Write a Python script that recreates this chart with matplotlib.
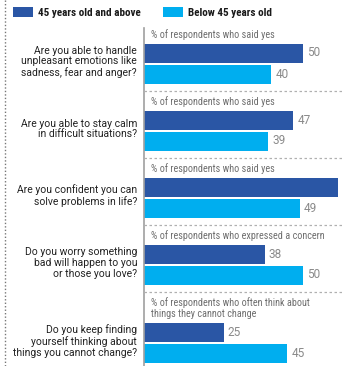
import matplotlib
matplotlib.use("Agg")
import matplotlib.pyplot as plt
from matplotlib.patches import Rectangle

# ── Data ──────────────────────────────────────────────────────────────
questions = [
    "Are you able to handle\nunpleasant emotions like\nsadness, fear and anger?",
    "Are you able to stay calm\nin difficult situations?",
    "Are you confident you can\nsolve problems in life?",
    "Do you worry something\nbad will happen to you\nor those you love?",
    "Do you keep finding\nyourself thinking about\nthings you cannot change?",
]
subtitles = [
    "% of respondents who said yes",
    "% of respondents who said yes",
    "% of respondents who said yes",
    "% of respondents who expressed a concern",
    "% of respondents who often think about\nthings they cannot change",
]
older = [50, 47, 61, 38, 25]      # 45 years old and above
younger = [40, 39, 49, 50, 45]    # Below 45 years old
series_names = ["45 years old and above", "Below 45 years old"]

DARK = "#2a56a5"
LIGHT = "#00aeef"
GREY_TXT = "#8a8a8a"

W, H = 342, 366
fig = plt.figure(figsize=(W / 100, H / 100), dpi=100)

# background axes in pixel coordinates (layout only)
bg = fig.add_axes([0, 0, 1, 1])
bg.set_xlim(0, W)
bg.set_ylim(H, 0)
bg.axis("off")

AX_X = 144
ax = fig.add_axes([AX_X / W, 0, (W - AX_X) / W, 1])
ax.set_xlim(0, (W - AX_X) / 3.18)
ax.set_ylim(H, 0)
ax.axis("off")

narrow = ["Roboto Condensed", "Asap Condensed", "Archivo Narrow", "DejaVu Sans"]
regular = ["Roboto", "Liberation Sans", "DejaVu Sans"]

# left dotted border
bg.plot([5, 5], [0, H], color="#777777", lw=1.0, ls=(0, (1, 1.5)))

# legend
for x0, col, name in [(13, DARK, series_names[0]), (163, LIGHT, series_names[1])]:
    bg.add_patch(Rectangle((x0, 7), 20, 10, color=col, lw=0))
    bg.text(x0 + 25, 12.5, name, ha="left", va="center", fontsize=8.0,
            fontweight="bold", family=narrow, color="#1a1a1a")

# axis line
ax.plot([0, 0], [28, H], color="#a0a0a0", lw=1.2, clip_on=False)

BAR_H, GAP = 19, 2
sep = 24
for i, (q, sub, v1, v2) in enumerate(zip(questions, subtitles, older, younger)):
    nlines = sub.count("\n") + 1
    if i > 0:
        ax.plot([0, 70], [sep, sep], color="#b0b0b0", lw=0.9,
                ls=(0, (2, 2)), clip_on=False)
    for j, line in enumerate(sub.split("\n")):
        ax.text(2.2, sep + 10.5 + 11.5 * j, line, ha="left", va="center",
                fontsize=7.3, family=narrow, color="#6e6e6e")
    top = sep + 19.5 + 11.5 * (nlines - 1)
    y1 = top + BAR_H / 2
    y2 = top + BAR_H + GAP + BAR_H / 2
    ax.barh(y1, v1, height=BAR_H, color=DARK, edgecolor="none")
    ax.barh(y2, v2, height=BAR_H, color=LIGHT, edgecolor="none")
    ax.text(v1 + 1.3, y1, str(v1), ha="left", va="center", fontsize=8.5,
            family=regular, color=GREY_TXT)
    ax.text(v2 + 1.3, y2, str(v2), ha="left", va="center", fontsize=8.5,
            family=regular, color=GREY_TXT)
    bg.text(137, (top + 2 * BAR_H + GAP / 2 + top) / 2 - 1, q, ha="right",
            va="center", fontsize=7.5, family=regular, color="#222222",
            linespacing=1.12)
    sep = top + 2 * BAR_H + GAP + 7.5

fig.savefig("out.png", dpi=100)
